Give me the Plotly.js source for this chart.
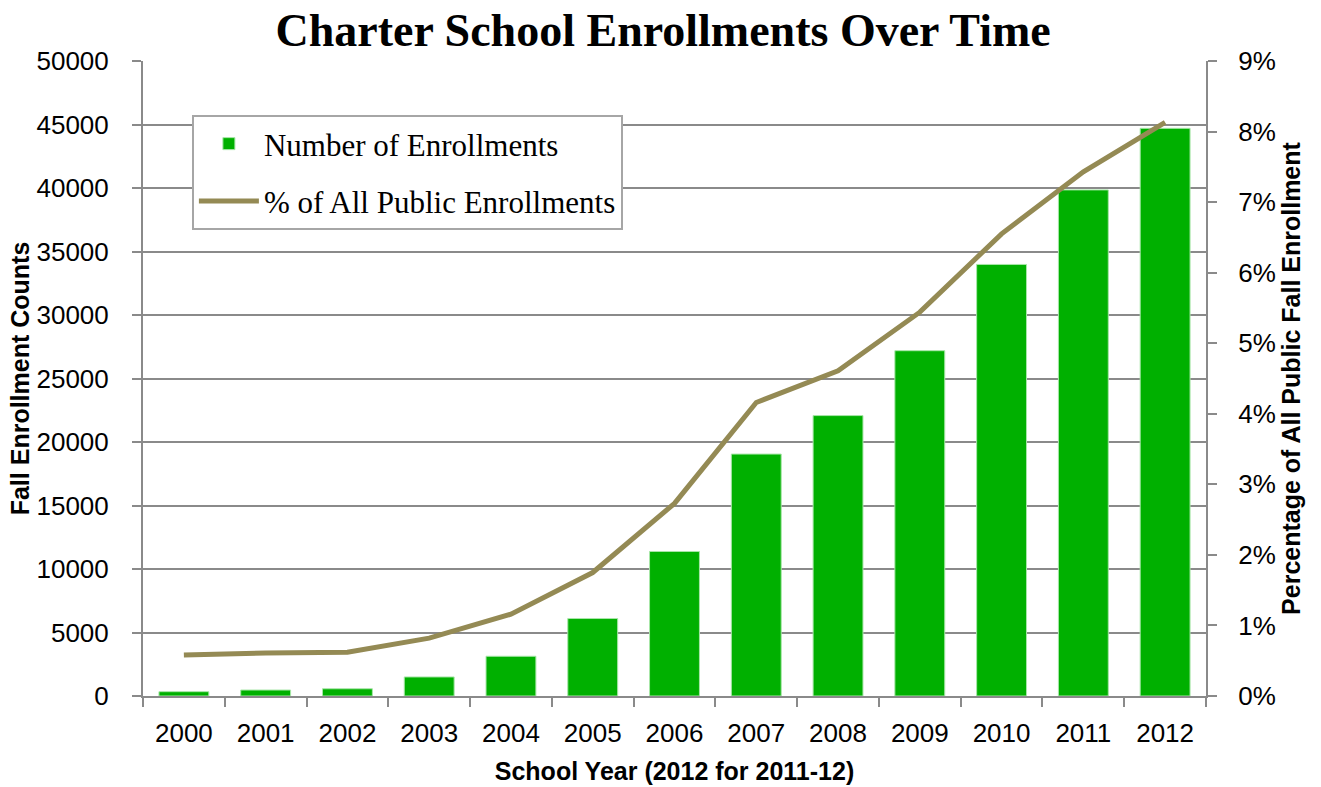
<!DOCTYPE html>
<html>
<head>
<meta charset="utf-8">
<script src="https://cdn.plot.ly/plotly-3.0.1.min.js"></script>
<style>html,body{margin:0;padding:0;background:#fff;}#chart{width:1321px;height:787px;}</style>
</head>
<body>
<div id="chart"></div>
<script>
const years = ["2000","2001","2002","2003","2004","2005","2006","2007","2008","2009","2010","2011","2012"];
const enrollments = [340, 470, 570, 1500, 3130, 6100, 11380, 19050, 22080, 27190, 33980, 39850, 44700];
const pctOfPublic = [0.0058, 0.0061, 0.0062, 0.0082, 0.0116, 0.0175, 0.0273, 0.0416, 0.0461, 0.0544, 0.0655, 0.0743, 0.0813];

const gridColor = '#8a8a8a';
const tickFont = {family: 'Liberation Sans, Arial, sans-serif', size: 26, color: '#000'};
const titleFont = {family: 'Liberation Sans, Arial, sans-serif', size: 25, color: '#000', weight: 'bold'};

const traces = [
  {
    type: 'bar', name: 'Number of Enrollments', x: years, y: enrollments, legendgroup: 'a',
    marker: {color: '#00B000', line: {color: '#a8e6a8', width: 1}},
    hoverinfo: 'skip'
  },
  {
    type: 'scatter', mode: 'lines', name: '% of All Public Enrollments', x: years, y: pctOfPublic, legendgroup: 'b',
    yaxis: 'y2', line: {color: '#948A54', width: 5}, hoverinfo: 'skip'
  }
];

const layout = {
  width: 1321, height: 787,
  margin: {l: 143, r: 115, t: 61, b: 91},
  paper_bgcolor: '#fff', plot_bgcolor: '#fff',
  showlegend: true,
  title: {
    text: '<b>Charter School Enrollments Over Time</b>',
    font: {family: 'Liberation Serif, Times New Roman, serif', size: 46, color: '#000'},
    x: 0.502, xanchor: 'center', y: 0.983, yanchor: 'top'
  },
  bargap: 0.39,
  xaxis: {
    type: 'category', showgrid: false, showline: true, linecolor: gridColor, linewidth: 2,
    ticks: 'outside', tickson: 'boundaries', ticklen: 9, tickcolor: gridColor, tickwidth: 2,
    tickfont: tickFont, ticklabelstandoff: 13,
    title: {text: 'School Year (2012 for 2011-12)', font: titleFont, standoff: 15}
  },
  yaxis: {
    range: [0, 50000], dtick: 5000, tickformat: 'd',
    showgrid: true, gridcolor: gridColor, gridwidth: 2,
    showline: true, linecolor: gridColor, linewidth: 2,
    ticks: 'outside', ticklen: 9, tickcolor: gridColor, tickwidth: 2,
    tickfont: tickFont, ticklabelstandoff: 18, zeroline: false,
    title: {text: 'Fall Enrollment Counts', font: titleFont, standoff: 0}
  },
  yaxis2: {
    overlaying: 'y', side: 'right', range: [0, 0.09], dtick: 0.01, tickformat: '.0%',
    showgrid: false, showline: true, linecolor: gridColor, linewidth: 2,
    ticks: 'outside', ticklen: 9, tickcolor: gridColor, tickwidth: 2,
    tickfont: tickFont, ticklabelstandoff: 16, zeroline: false,
    title: {text: 'Percentage of All Public Fall Enrollment', font: titleFont, standoff: 8}
  },
  legend: {
    x: 0.046, y: 0.915, xanchor: 'left', yanchor: 'top',
    bgcolor: '#fff', bordercolor: '#a6a6a6', borderwidth: 2,
    font: {family: 'Liberation Serif, Times New Roman, serif', size: 31, color: '#000'},
    traceorder: 'grouped', tracegroupgap: 14, itemwidth: 60
  }
};

Plotly.newPlot('chart', traces, layout, {displayModeBar: false, staticPlot: true});
</script>
</body>
</html>
